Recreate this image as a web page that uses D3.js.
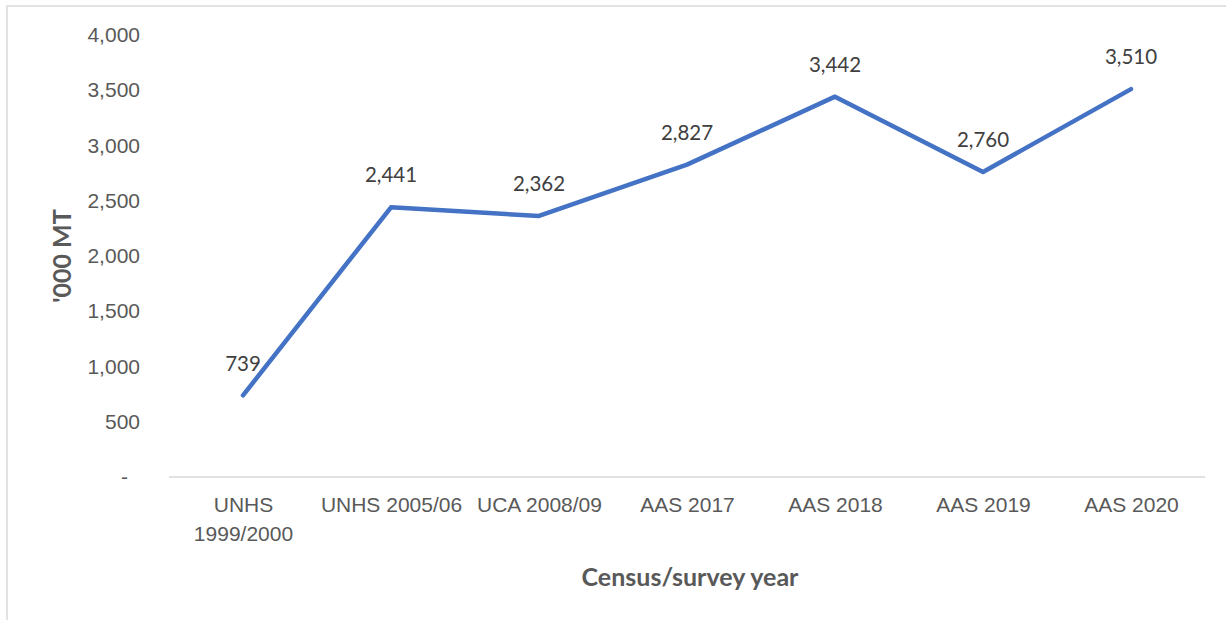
<!DOCTYPE html>
<html>
<head>
<meta charset="utf-8">
<script src="https://cdn.jsdelivr.net/npm/d3@7"></script>
<style>
    body { margin: 0; background: #fff; }
    svg { display: block; font-family: Lato, "Open Sans", sans-serif; }
</style>
</head>
<body>
<svg id="chart" width="1226" height="620"></svg>
<script>
const categories = ["UNHS 1999/2000", "UNHS 2005/06", "UCA 2008/09", "AAS 2017", "AAS 2018", "AAS 2019", "AAS 2020"];
const production = [739, 2441, 2362, 2827, 3442, 2760, 3510];
const yTicks = [0, 500, 1000, 1500, 2000, 2500, 3000, 3500, 4000];

const svg = d3.select("#chart");
const width = 1226, height = 620;
const margin = {left: 169, right: 21, top: 35, bottom: 143};

// outer chart frame (right and bottom edges fall outside the picture)
svg.append("rect")
    .attr("x", 7).attr("y", 6)
    .attr("width", width + 10).attr("height", height + 10)
    .attr("fill", "none")
    .attr("stroke", "#d9d9d9")
    .attr("stroke-width", 1.5);

const x = d3.scalePoint()
    .domain(categories)
    .range([margin.left, width - margin.right])
    .padding(0.5);

const y = d3.scaleLinear()
    .domain([0, 4000])
    .range([height - margin.bottom, margin.top]);

const fmt = d3.format(",");

// y axis labels, no line
const yAxis = svg.append("g")
    .attr("transform", `translate(${margin.left}, 0)`)
    .call(d3.axisLeft(y).tickValues(yTicks).tickSize(0).tickPadding(29)
        .tickFormat(d => d === 0 ? "-" : fmt(d)));
yAxis.select(".domain").remove();
yAxis.selectAll("text")
    .attr("font-size", 21)
    .attr("fill", "#595959")
    .attr("dx", d => d === 0 ? -12 : 0);

// x axis with baseline
const xAxis = svg.append("g")
    .attr("transform", `translate(0, ${y(0)})`)
    .call(d3.axisBottom(x).tickSize(0).tickPadding(20));
xAxis.select(".domain")
    .attr("stroke", "#d9d9d9")
    .attr("stroke-width", 1.5)
    .attr("d", `M${margin.left},0H${width - margin.right}`);
xAxis.selectAll("text")
    .attr("font-size", 21)
    .attr("fill", "#595959")
    .each(function(d) {
        // wrap labels that don't fit in one step
        const t = d3.select(this);
        if (this.getComputedTextLength() > x.step() - 4) {
            const words = d.split(" ");
            t.text(null);
            words.forEach((w, i) => {
                t.append("tspan")
                    .attr("x", 0)
                    .attr("dy", i === 0 ? "0.71em" : 29)
                    .text(w);
            });
            t.attr("dy", null);
        }
    });

// line
const line = d3.line()
    .x((d, i) => x(categories[i]))
    .y(d => y(d));

svg.append("path")
    .datum(production)
    .attr("fill", "none")
    .attr("stroke", "#4472c4")
    .attr("stroke-width", 4.5)
    .attr("stroke-linecap", "round")
    .attr("stroke-linejoin", "round")
    .attr("d", line);

// data labels
svg.append("g")
    .selectAll("text")
    .data(production)
    .enter()
    .append("text")
    .attr("x", (d, i) => x(categories[i]))
    .attr("y", d => y(d) - 32)
    .attr("dy", "0.35em")
    .attr("text-anchor", "middle")
    .attr("font-size", 20.5)
    .attr("fill", "#404040")
    .text(d => fmt(d));

// axis titles
svg.append("text")
    .attr("transform", "translate(62, 256) rotate(-90)")
    .attr("text-anchor", "middle")
    .attr("dy", "0.35em")
    .attr("font-size", 25)
    .attr("font-weight", "bold")
    .attr("fill", "#595959")
    .text("'000 MT");

svg.append("text")
    .attr("x", 690)
    .attr("y", 577)
    .attr("dy", "0.35em")
    .attr("text-anchor", "middle")
    .attr("font-size", 25)
    .attr("font-weight", "bold")
    .attr("fill", "#595959")
    .text("Census/survey year");
</script>
</body>
</html>
